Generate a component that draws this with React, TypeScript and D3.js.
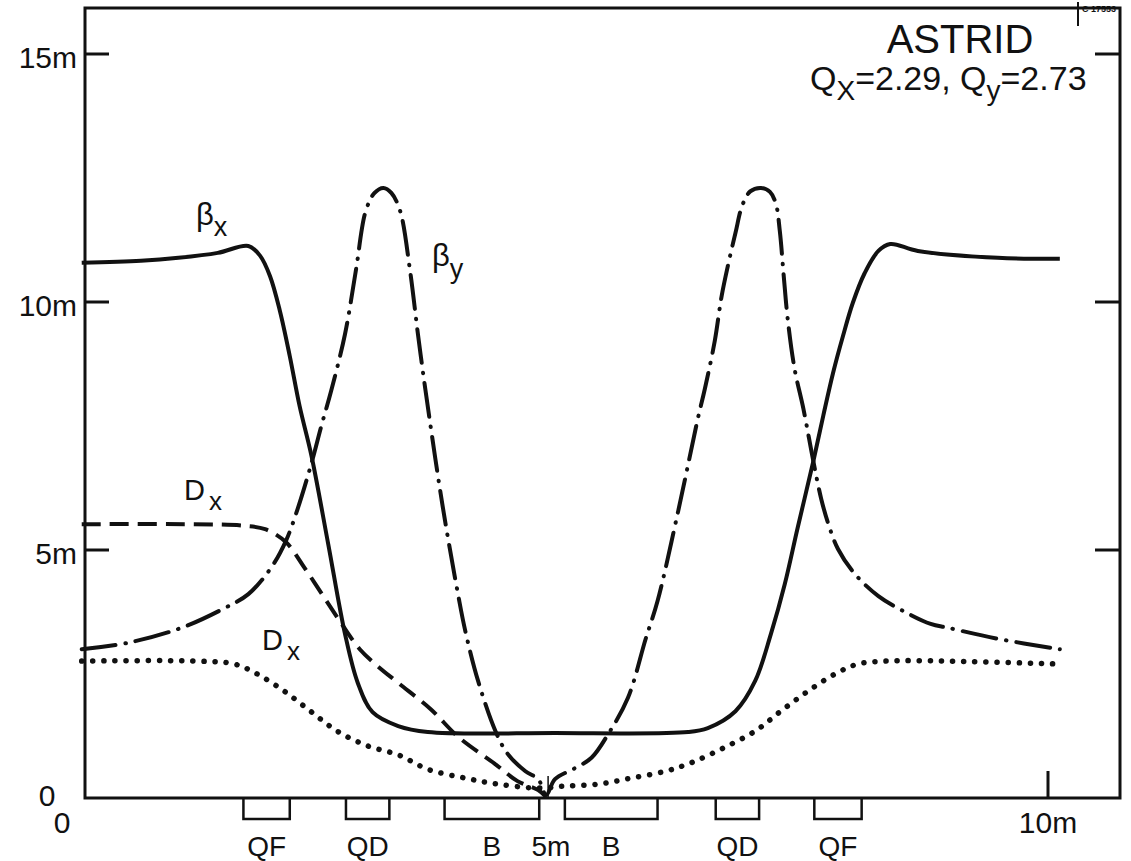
import React from 'react';
import * as d3 from 'd3';

type P = [number, number];

// s [m] along the lattice, value [m]
const betaX: P[] = [
  [0.2, 10.79], [0.8, 10.83], [1.18, 10.89], [1.58, 10.99], [1.89, 11.13], [2.01, 10.93],
  [2.11, 10.52], [2.21, 9.82], [2.31, 8.91], [2.41, 7.9], [2.53, 6.9], [2.7, 5.12],
  [2.87, 3.31], [3.0, 2.32], [3.15, 1.73], [3.41, 1.45], [3.71, 1.33], [5.0, 1.31],
  [6.35, 1.33], [6.55, 1.41], [6.83, 1.75], [7.03, 2.36], [7.19, 3.31], [7.33, 4.31],
  [7.46, 5.44], [7.62, 6.79], [7.72, 7.7], [7.82, 8.57], [7.92, 9.31], [8.02, 9.98],
  [8.14, 10.58], [8.28, 11.03], [8.4, 11.17], [8.68, 11.03], [9.49, 10.89], [10.12, 10.87],
];

const betaY: P[] = [
  [0.2, 3.0], [0.67, 3.13], [1.21, 3.43], [1.65, 3.83], [1.89, 4.11], [2.12, 4.64],
  [2.27, 5.18], [2.39, 5.83], [2.53, 6.75], [2.63, 7.5], [2.73, 8.21], [2.87, 9.35],
  [2.98, 10.63], [3.08, 11.83], [3.17, 12.2], [3.26, 12.3], [3.34, 12.2], [3.43, 11.83],
  [3.53, 10.63], [3.61, 9.35], [3.69, 8.17], [3.86, 5.89], [4.02, 4.07], [4.09, 3.37],
  [4.22, 2.36], [4.4, 1.33], [4.52, 0.89], [4.7, 0.54], [4.83, 0.38], [4.91, 0.06],
  [5.0, 0.38], [5.2, 0.6], [5.37, 0.81], [5.54, 1.29], [5.74, 2.02], [5.92, 3.21],
  [6.04, 3.97], [6.25, 5.79], [6.45, 7.66], [6.52, 8.25], [6.62, 9.21], [6.69, 10.12],
  [6.76, 10.79], [6.83, 11.39], [6.9, 11.95], [6.98, 12.23], [7.09, 12.3], [7.18, 12.22],
  [7.24, 11.98], [7.28, 11.43], [7.32, 10.52], [7.36, 9.66], [7.43, 8.65], [7.52, 7.84],
  [7.62, 6.79], [7.7, 6.03], [7.77, 5.54], [7.87, 5.02], [8.04, 4.52], [8.28, 4.07],
  [8.55, 3.75], [8.81, 3.51], [8.99, 3.43], [9.49, 3.21], [10.12, 3.0],
];

const dispersionDashed: P[] = [
  [0.2, 5.52], [1.3, 5.52], [1.85, 5.49], [2.06, 5.42], [2.27, 5.16], [2.46, 4.64],
  [2.67, 4.01], [2.85, 3.47], [3.02, 3.0], [3.2, 2.66], [3.41, 2.32], [3.74, 1.79],
  [4.02, 1.23], [4.39, 0.69], [4.62, 0.34], [4.83, 0.16], [4.91, 0.02],
];

const dispersionDotted: P[] = [
  [0.2, 2.76], [1.38, 2.76], [1.75, 2.7], [1.98, 2.5], [2.25, 2.16], [2.52, 1.75],
  [2.79, 1.35], [3.1, 1.05], [3.41, 0.87], [3.71, 0.58], [4.09, 0.4], [4.42, 0.28],
  [4.83, 0.2], [5.1, 0.24], [5.44, 0.28], [5.77, 0.4], [6.12, 0.54], [6.38, 0.71],
  [6.7, 1.0], [7.03, 1.35], [7.29, 1.75], [7.57, 2.16], [7.84, 2.5], [8.07, 2.7],
  [8.35, 2.76], [8.99, 2.76], [10.12, 2.7],
];

const magnetNames = ['QF', 'QD', 'B', 'B', 'QD', 'QF'];
const magnetStart = [1.84, 2.88, 3.88, 5.1, 6.63, 7.63];
const magnetEnd = [2.31, 3.32, 4.84, 6.04, 7.07, 8.11];

const leftTicks = [5, 10, 15];
const leftTickLabels = ['5m', '10m', '15m'];
const rightTicks = [5, 10, 15];
const bottomTicks = [10];
const centerTick = 4.93;
const centerLabel = { value: 5, text: '5m' };
const xEndLabels = [{ value: 0, text: '0' }, { value: 10, text: '10m' }];

const title = 'ASTRID';
const tuneX = '2.29';
const tuneY = '2.73';

const W = 1131;
const H = 861;
const FONT = '"Liberation Sans", Arial, Helvetica, sans-serif';
const INK = '#111';

export default function App() {
  const x = d3.scaleLinear().domain([0, 10]).range([62, 1048]);
  const y = d3.scaleLinear().domain([0, 15]).range([798, 54]);
  const line = d3
    .line<P>()
    .x((d) => x(d[0]))
    .y((d) => y(d[1]))
    .curve(d3.curveCatmullRom.alpha(0.5));

  const left = 85;
  const right = 1120;
  const top = 8;
  const bottom = y(0);
  const boxH = 21;

  return (
    <svg
      width={W}
      height={H}
      viewBox={`0 0 ${W} ${H}`}
      style={{ position: 'absolute', left: 0, top: 0, background: '#fff' }}
      fontFamily={FONT}
    >
      <rect x={0} y={0} width={W} height={H} fill="#fff" />
      {/* frame */}
      <path
        d={`M${left},${top} H${right} V${bottom} H${left} Z`}
        fill="none"
        stroke={INK}
        strokeWidth={3}
      />
      {/* ticks */}
      {leftTicks.map((t) => (
        <line key={'l' + t} x1={left} x2={left + 24} y1={y(t)} y2={y(t)} stroke={INK} strokeWidth={3} />
      ))}
      {rightTicks.map((t) => (
        <line key={'r' + t} x1={right - 25} x2={right} y1={y(t)} y2={y(t)} stroke={INK} strokeWidth={3} />
      ))}
      {bottomTicks.map((t) => (
        <line key={'b' + t} x1={x(t)} x2={x(t)} y1={bottom} y2={bottom - 27} stroke={INK} strokeWidth={3} />
      ))}
      <line x1={x(centerTick)} x2={x(centerTick)} y1={bottom} y2={bottom - 22} stroke={INK} strokeWidth={1.5} />
      {leftTicks.map((t, i) => (
        <text key={'lt' + t} x={77} y={y(t) + 14} fontSize={30} textAnchor="end" fill={INK}>
          {leftTickLabels[i]}
        </text>
      ))}
      <text x={47} y={806} fontSize={30} textAnchor="middle" fill={INK}>0</text>
      {xEndLabels.map((l) => (
        <text key={'xl' + l.text} x={x(l.value)} y={833} fontSize={30} textAnchor="middle" fill={INK}>
          {l.text}
        </text>
      ))}
      {/* magnets */}
      {magnetNames.map((n, i) => (
        <g key={'m' + i}>
          <path
            d={`M${x(magnetStart[i])},${bottom} V${bottom + boxH} H${x(magnetEnd[i])} V${bottom}`}
            fill="none"
            stroke={INK}
            strokeWidth={2.5}
          />
          <text
            x={(x(magnetStart[i]) + x(magnetEnd[i])) / 2}
            y={856}
            fontSize={28}
            textAnchor="middle"
            fill={INK}
          >
            {n}
          </text>
        </g>
      ))}
      <text x={x(centerLabel.value) - 4} y={856} fontSize={28} textAnchor="middle" fill={INK}>
        {centerLabel.text}
      </text>
      {/* curves */}
      <path d={line(dispersionDotted) || ''} fill="none" stroke={INK} strokeWidth={5.5} strokeLinecap="round" strokeDasharray="0.1 11" />
      <path d={line(dispersionDashed) || ''} fill="none" stroke={INK} strokeWidth={4} strokeDasharray="19 9" />
      <path d={line(betaY) || ''} fill="none" stroke={INK} strokeWidth={4} strokeLinecap="round" strokeDasharray="34 10 0.5 10" />
      <path d={line(betaX) || ''} fill="none" stroke={INK} strokeWidth={4} strokeLinejoin="round" />
      {/* curve labels */}
      <text x={196} y={225} fontSize={31} fill={INK}>
        β<tspan dy={11} fontSize={27}>x</tspan>
      </text>
      <text x={432} y={266} fontSize={31} fill={INK}>
        β<tspan dy={12} fontSize={27}>y</tspan>
      </text>
      <text x={184} y={500} fontSize={29} fill={INK}>
        D<tspan dx={4} dy={10} fontSize={26}>x</tspan>
      </text>
      <text x={262} y={650} fontSize={29} fill={INK}>
        D<tspan dx={4} dy={10} fontSize={26}>x</tspan>
      </text>
      {/* title */}
      <text x={960} y={53} fontSize={40} textAnchor="middle" fill={INK}>{title}</text>
      <text x={810} y={90} fontSize={34} fill={INK}>
        Q<tspan dy={10} fontSize={28}>X</tspan>
        <tspan dy={-10} fontSize={34}>{`=${tuneX}, Q`}</tspan>
        <tspan dy={10} fontSize={28}>y</tspan>
        <tspan dy={-10} fontSize={34}>{`=${tuneY}`}</tspan>
      </text>
      {/* archive stamp */}
      <line x1={1078} x2={1078} y1={2} y2={26} stroke={INK} strokeWidth={2} />
      <text x={1082} y={12} fontSize={9} fontWeight="bold" fill={INK}>C 17553</text>
    </svg>
  );
}
